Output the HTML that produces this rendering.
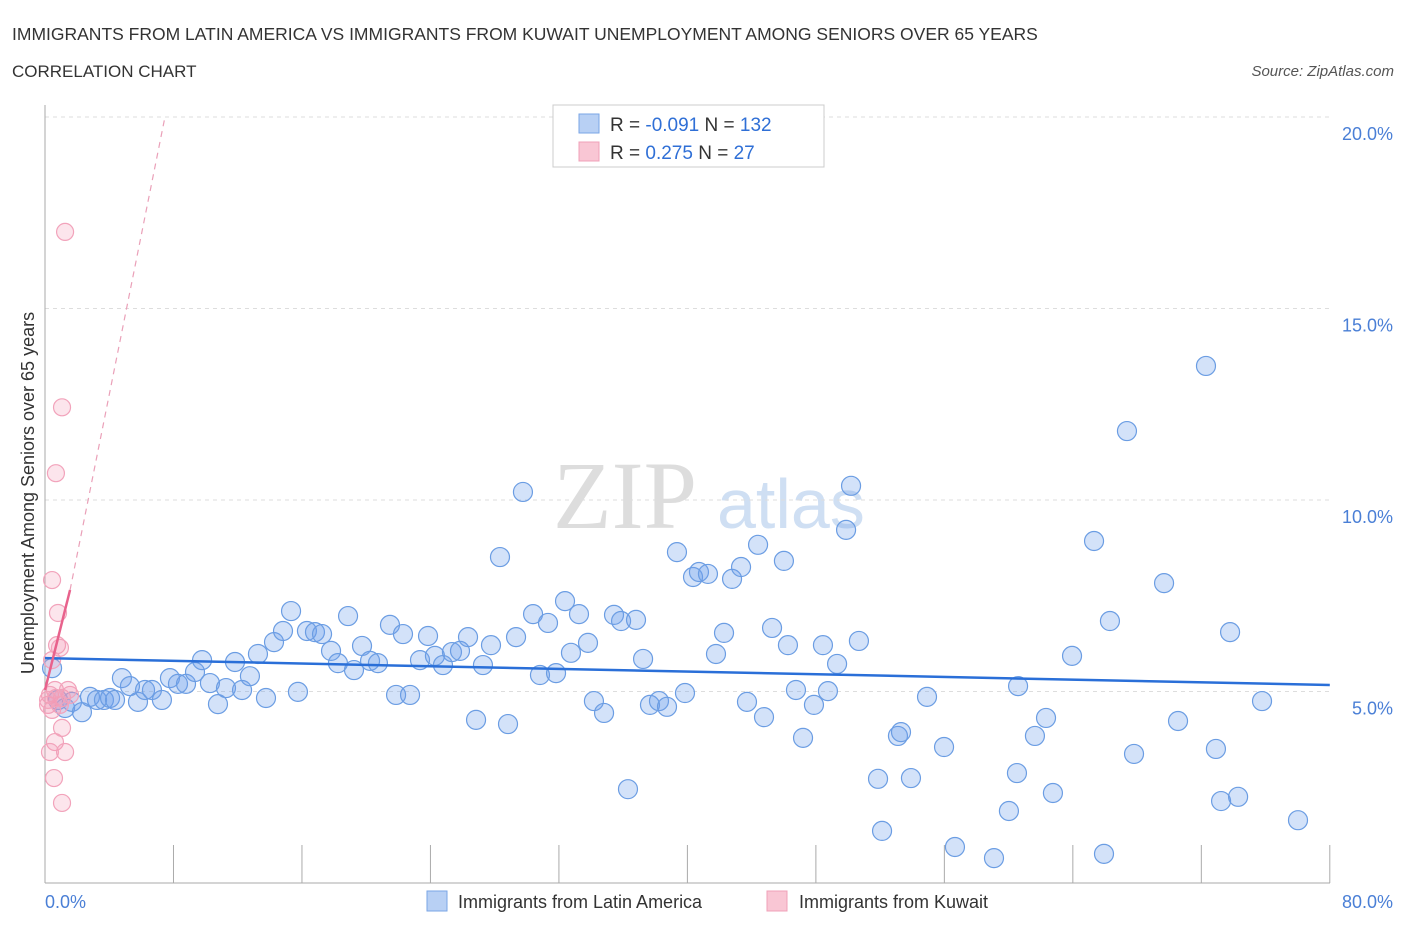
<!DOCTYPE html>
<html><head><meta charset="utf-8"><style>
body{margin:0;background:#fff;font-family:"Liberation Sans",sans-serif;}
svg{display:block}
</style></head><body>
<svg width="1406" height="930" xmlns="http://www.w3.org/2000/svg">
<text x="12" y="40" font-size="17.5" fill="#333">IMMIGRANTS FROM LATIN AMERICA VS IMMIGRANTS FROM KUWAIT UNEMPLOYMENT AMONG SENIORS OVER 65 YEARS</text>
<text x="12" y="77" font-size="17" fill="#333">CORRELATION CHART</text>
<text x="1394" y="76" font-size="15" fill="#555" font-style="italic" text-anchor="end">Source: ZipAtlas.com</text>
<g>
<text x="553" y="528" font-size="96" font-family="Liberation Serif,serif" fill="#ddd">ZIP</text>
<text x="717" y="528" font-size="70" fill="#cfdff3">atlas</text>
</g>
<g id="grid"></g>
<g id="axes"></g>
<g id="pts"></g>
<g id="trend"></g>
<text transform="translate(34,493) rotate(-90)" font-size="18" fill="#333" text-anchor="middle">Unemployment Among Seniors over 65 years</text>
<g>
<rect x="553" y="105" width="271" height="62" fill="#fff" stroke="#ccc"/>
<rect x="579" y="114" width="20" height="19" fill="#b8d0f4" stroke="#7aa6e6"/>
<rect x="579" y="142" width="20" height="19" fill="#f9c6d4" stroke="#f0a0b8"/>
<text x="610" y="131" font-size="19" fill="#333">R = <tspan fill="#2f6fd6">-0.091</tspan>   N = <tspan fill="#2f6fd6">132</tspan></text>
<text x="610" y="159" font-size="19" fill="#333">R =  <tspan fill="#2f6fd6"> 0.275</tspan>   N =  <tspan fill="#2f6fd6"> 27</tspan></text>
</g>
<g>
<rect x="427" y="891" width="20" height="20" fill="#b8d0f4" stroke="#7aa6e6"/>
<text x="458" y="908" font-size="18" fill="#333">Immigrants from Latin America</text>
<rect x="767" y="891" width="20" height="20" fill="#f9c6d4" stroke="#f0a0b8"/>
<text x="799" y="908" font-size="18" fill="#333">Immigrants from Kuwait</text>
</g>
</svg>
<script>
const yTicks=[5,10,15,20];
const yTickLabels=["5.0%","10.0%","15.0%","20.0%"];
const xTickLabels=["0.0%","80.0%"];
const blueX=[0.44,0.81,1.25,1.68,2.30,2.80,3.24,3.67,4.05,4.36,4.79,5.29,5.79,6.23,6.66,7.28,7.78,8.28,8.78,9.34,9.78,10.27,10.77,11.27,11.83,12.27,12.76,13.26,13.76,14.26,14.82,15.32,15.75,16.31,16.81,17.25,17.81,18.24,18.87,19.24,19.74,20.24,20.73,21.48,21.86,22.29,22.73,23.35,23.85,24.28,24.78,25.34,25.84,26.34,26.84,27.27,27.77,28.33,28.83,29.33,29.76,30.39,30.82,31.32,31.82,32.38,32.75,33.25,33.81,34.18,34.81,35.43,35.87,36.30,36.80,37.24,37.67,38.23,38.73,39.35,39.85,40.35,40.72,41.28,41.78,42.28,42.78,43.34,43.71,44.40,44.77,45.27,46.01,46.26,46.76,47.20,47.88,48.44,48.75,49.32,49.88,50.19,50.68,51.87,52.12,53.11,53.3,53.92,54.92,55.98,56.66,59.09,60.02,60.52,60.59,61.64,62.33,62.76,63.95,65.32,65.94,66.31,67.37,67.81,69.68,70.55,72.29,72.91,73.23,73.79,74.29,75.78,78.02];
const blueY=[5.61,4.78,4.57,4.73,4.46,4.86,4.78,4.78,4.83,4.78,5.35,5.14,4.73,5.04,5.04,4.78,5.35,5.20,5.20,5.51,5.82,5.22,4.67,5.09,5.77,5.04,5.40,5.98,4.83,6.29,6.58,7.10,4.99,6.58,6.55,6.50,6.06,5.74,6.97,5.56,6.19,5.80,5.74,6.74,4.91,6.50,4.91,5.82,6.45,5.93,5.69,6.03,6.06,6.42,4.26,5.69,6.21,8.51,4.15,6.42,10.21,7.02,5.43,6.79,5.48,7.36,6.01,7.02,6.27,4.75,4.44,7.00,6.84,2.45,6.87,5.85,4.65,4.75,4.60,8.64,4.96,7.99,8.12,8.07,5.98,6.53,7.94,8.25,4.73,8.83,4.33,6.66,8.41,6.21,5.04,3.79,4.65,6.21,5.01,5.72,9.22,10.37,6.32,2.72,1.36,3.84,3.94,2.74,4.86,3.55,0.94,0.65,1.88,2.87,5.14,3.84,4.31,2.35,5.93,8.93,0.76,6.84,11.80,3.37,7.83,4.23,13.50,3.50,2.14,6.55,2.25,4.75,1.64];
const pinkX=[1.25,1.06,0.68,0.44,0.81,0.75,0.93,0.44,0.62,0.31,1.06,1.56,0.19,0.44,0.93,1.43,0.62,1.25,0.31,0.56,1.06,1.06,0.19,0.68];
const pinkY=[17.0,12.42,10.70,7.91,7.05,6.21,6.14,5.82,5.04,4.91,4.83,4.91,4.65,4.52,4.65,5.04,3.68,3.42,3.42,2.74,2.09,4.05,4.78,4.83];
const blueTrend=[[0,5.87],[80,5.17]];
const pinkTrend=[[0,5.04],[1.56,7.65]];
const pinkDash=[[1.56,7.65],[7.47,20]];
const NS="http://www.w3.org/2000/svg";
const sx=v=>45+v*16.06, sy=v=>883-v*38.3;
function mk(t,a,p){const e=document.createElementNS(NS,t);for(const k in a)e.setAttribute(k,a[k]);p.appendChild(e);return e;}
const grid=document.getElementById('grid'),axes=document.getElementById('axes'),pts=document.getElementById('pts'),tr=document.getElementById('trend');
yTicks.forEach((v,i)=>{
 const l=mk('line',{x1:45,x2:1330,y1:sy(v),y2:sy(v),stroke:'#ddd','stroke-dasharray':'4,4'},grid);
 
 
 const t=mk('text',{x:1393,y:sy(v)+23,'font-size':18,fill:'#4a7fd6','text-anchor':'end'},axes);
 t.textContent=yTickLabels[i];
 
 
});
const ax=mk('line',{x1:45,x2:45,y1:105,y2:883,stroke:'#aaa'},axes);


const bx=mk('line',{x1:45,x2:1330,y1:883,y2:883,stroke:'#aaa'},axes);


for(let i=1;i<=10;i++){const v=i*8;const t=mk('line',{x1:sx(v),x2:sx(v),y1:845,y2:883,stroke:'#aaa'},axes);
 
 }
const xl0=mk('text',{x:45,y:908,'font-size':18,fill:'#4a7fd6'},axes);xl0.textContent=xTickLabels[0];


const xl1=mk('text',{x:1393,y:908,'font-size':18,fill:'#4a7fd6','text-anchor':'end'},axes);xl1.textContent=xTickLabels[1];


blueX.forEach((x,i)=>{const c=mk('circle',{cx:sx(x),cy:sy(blueY[i]),r:9.5,fill:'rgba(110,160,235,0.3)',stroke:'#6b9de3','stroke-width':1.2},pts);
 
 });
pinkX.forEach((x,i)=>{const c=mk('circle',{cx:sx(x),cy:sy(pinkY[i]),r:8.5,fill:'rgba(245,150,180,0.25)',stroke:'#f2a3bb','stroke-width':1.2},pts);
 
 });
const b=mk('line',{x1:sx(blueTrend[0][0]),y1:sy(blueTrend[0][1]),x2:sx(blueTrend[1][0]),y2:sy(blueTrend[1][1]),stroke:'#2a6fd8','stroke-width':2.5},tr);


const pd=mk('line',{x1:sx(pinkDash[0][0]),y1:sy(pinkDash[0][1]),x2:sx(pinkDash[1][0]),y2:sy(pinkDash[1][1]),stroke:'#eaa0b8','stroke-width':1.2,'stroke-dasharray':'6,5'},tr);


const p=mk('line',{x1:sx(pinkTrend[0][0]),y1:sy(pinkTrend[0][1]),x2:sx(pinkTrend[1][0]),y2:sy(pinkTrend[1][1]),stroke:'#e8628c','stroke-width':2.5},tr);


</script>
</body></html>
